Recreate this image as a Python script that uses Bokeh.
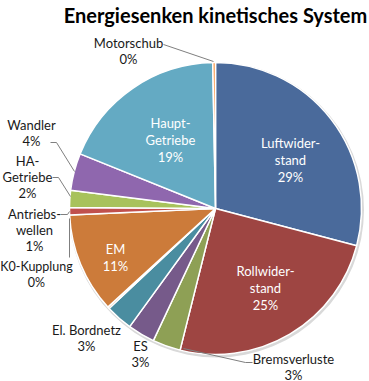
import math
from bokeh.plotting import figure
from bokeh.models import ColumnDataSource, Range1d
from bokeh.core.properties import value
from bokeh.embed import file_html
from bokeh.resources import INLINE

# ---- data ----
categories = ["Luftwiderstand", "Rollwiderstand", "Bremsverluste", "ES", "El. Bordnetz",
              "K0-Kupplung", "EM", "Antriebswellen", "HA-Getriebe", "Wandler",
              "Haupt-Getriebe", "Motorschub"]
shares = [29.1, 24.8, 3.1, 3.0, 3.0, 0.2, 11.1, 0.8, 1.9, 4.1, 18.6, 0.3]
label_lines = [["Luftwider-", "stand"], ["Rollwider-", "stand"], ["Bremsverluste"], ["ES"],
               ["El. Bordnetz"], ["K0-Kupplung"], ["EM"], ["Antriebs-", "wellen"],
               ["HA-", "Getriebe"], ["Wandler"], ["Haupt-", "Getriebe"], ["Motorschub"]]
colors = ["#4A6A9B", "#9E4542", "#8EA055", "#765A8A", "#4A8DA0", "#CC7B3A",
          "#CC7B3A", "#C0504D", "#A8C25C", "#8F67AE", "#64AAC3", "#F79646"]
title_text = "Energiesenken kinetisches System"

# ---- layout (page pixel coordinates) ----
W, H = 369, 381
def X(px): return px
def Y(py): return H - py

cx, cy, R = X(215), Y(208), 146

total = sum(shares)
starts, ends = [], []
acc = 0.0
for s in shares:
    starts.append(math.pi / 2 - acc / total * 2 * math.pi)
    acc += s
    ends.append(math.pi / 2 - acc / total * 2 * math.pi)

p = figure(width=W, height=H, output_backend="svg", toolbar_location=None,
           x_range=Range1d(0, W), y_range=Range1d(0, H), min_border=0)
p.axis.visible = False
p.grid.visible = False
p.outline_line_color = None
p.background_fill_color = "white"

# subtle shadow ring
p.circle(x=[cx + 1], y=[cy - 1.5], radius=R + 1.5, fill_color="#D9D9D9", line_color=None)

src = ColumnDataSource(dict(cat=categories, start=starts, end=ends, color=colors,
                            x=[cx] * len(shares), y=[cy] * len(shares)))
p.wedge(x="x", y="y", radius=R, start_angle="start", end_angle="end", direction="clock",
        fill_color="color", line_color="white", line_width=1.5, source=src)

pct = ["%d%%" % round(s) for s in shares]

font = value("Lato")
# inside labels: (index, px, py of first line)
inside = {0: (290, 142), 1: (265, 270), 6: (115, 248), 10: (170, 122)}
step = 17
for i, (px, py) in inside.items():
    lines = label_lines[i] + [pct[i]]
    for k, t in enumerate(lines):
        p.text(x=[X(px)], y=[Y(py + k * step)], text=[t], text_color="white",
               text_font=font, text_font_size="13px", text_align="center",
               text_baseline="middle")

# outside labels: (index, px, py of first line, leader polyline in page px)
outside = {
    11: (128, 42, [(163, 44), (213, 61)]),
    9: (31, 124, [(50, 142), (56, 142), (74, 171)]),
    8: (27, 160, [(52, 177), (58, 177), (70, 196)]),
    7: (34, 213, [(60, 214), (67, 214), (69, 211)]),
    5: (36, 266, [(69, 257), (69, 218)]),
    4: (86, 329, []),
    3: (140, 345, []),
    2: (293, 358, [(252, 362), (245, 362), (183, 348)]),
}
for i, (px, py, leader) in outside.items():
    lines = label_lines[i] + [pct[i]]
    fs = "12.5px" if i == 5 else "13px"
    for k, t in enumerate(lines):
        p.text(x=[X(px)], y=[Y(py + k * 16)], text=[t], text_color="#1A1A1A",
               text_font=font, text_font_size=fs, text_align="center",
               text_baseline="middle")
    if leader:
        p.line(x=[X(a) for a, b in leader], y=[Y(b) for a, b in leader],
               line_color="#7F7F7F", line_width=1)

p.text(x=[X(215)], y=[Y(14)], text=[title_text], text_color="black",
       text_font=font, text_font_size="20px", text_font_style="bold",
       text_align="center", text_baseline="middle")

open("out.html", "w").write(file_html(p, INLINE))
